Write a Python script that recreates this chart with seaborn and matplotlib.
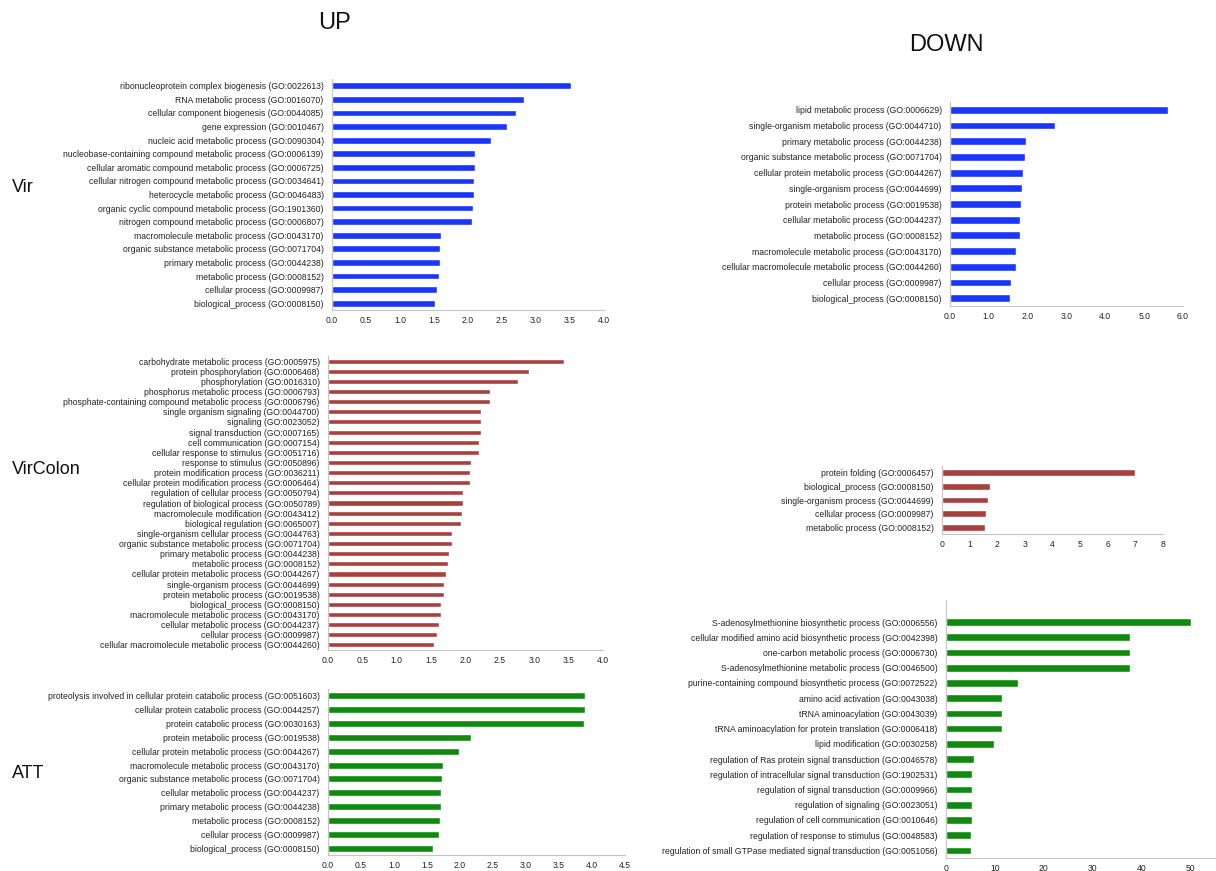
import matplotlib
matplotlib.use("Agg")
import matplotlib.pyplot as plt
import seaborn as sns
import pandas as pd

sns.set_theme(style="white")
plt.rcParams['font.family'] = ['Liberation Sans', 'DejaVu Sans']

W, H = 1216, 871

# ---------------- data ----------------
vir_up_terms = [
    "ribonucleoprotein complex biogenesis (GO:0022613)",
    "RNA metabolic process (GO:0016070)",
    "cellular component biogenesis (GO:0044085)",
    "gene expression (GO:0010467)",
    "nucleic acid metabolic process (GO:0090304)",
    "nucleobase-containing compound metabolic process (GO:0006139)",
    "cellular aromatic compound metabolic process (GO:0006725)",
    "cellular nitrogen compound metabolic process (GO:0034641)",
    "heterocycle metabolic process (GO:0046483)",
    "organic cyclic compound metabolic process (GO:1901360)",
    "nitrogen compound metabolic process (GO:0006807)",
    "macromolecule metabolic process (GO:0043170)",
    "organic substance metabolic process (GO:0071704)",
    "primary metabolic process (GO:0044238)",
    "metabolic process (GO:0008152)",
    "cellular process (GO:0009987)",
    "biological_process (GO:0008150)",
]
vir_up_values = [3.52, 2.83, 2.70, 2.57, 2.34, 2.11, 2.10, 2.09, 2.09, 2.08,
                 2.06, 1.60, 1.585, 1.585, 1.57, 1.55, 1.52]

vircolon_up_terms = [
    "carbohydrate metabolic process (GO:0005975)",
    "protein phosphorylation (GO:0006468)",
    "phosphorylation (GO:0016310)",
    "phosphorus metabolic process (GO:0006793)",
    "phosphate-containing compound metabolic process (GO:0006796)",
    "single organism signaling (GO:0044700)",
    "signaling (GO:0023052)",
    "signal transduction (GO:0007165)",
    "cell communication (GO:0007154)",
    "cellular response to stimulus (GO:0051716)",
    "response to stimulus (GO:0050896)",
    "protein modification process (GO:0036211)",
    "cellular protein modification process (GO:0006464)",
    "regulation of cellular process (GO:0050794)",
    "regulation of biological process (GO:0050789)",
    "macromolecule modification (GO:0043412)",
    "biological regulation (GO:0065007)",
    "single-organism cellular process (GO:0044763)",
    "organic substance metabolic process (GO:0071704)",
    "primary metabolic process (GO:0044238)",
    "metabolic process (GO:0008152)",
    "cellular protein metabolic process (GO:0044267)",
    "single-organism process (GO:0044699)",
    "protein metabolic process (GO:0019538)",
    "biological_process (GO:0008150)",
    "macromolecule metabolic process (GO:0043170)",
    "cellular metabolic process (GO:0044237)",
    "cellular process (GO:0009987)",
    "cellular macromolecule metabolic process (GO:0044260)",
]
vircolon_up_values = [3.43, 2.93, 2.77, 2.35, 2.35, 2.23, 2.23, 2.23, 2.20, 2.20,
                      2.08, 2.07, 2.07, 1.97, 1.96, 1.95, 1.93, 1.81, 1.80, 1.76,
                      1.75, 1.71, 1.69, 1.69, 1.65, 1.64, 1.62, 1.58, 1.54]

att_up_terms = [
    "proteolysis involved in cellular protein catabolic process (GO:0051603)",
    "cellular protein catabolic process (GO:0044257)",
    "protein catabolic process (GO:0030163)",
    "protein metabolic process (GO:0019538)",
    "cellular protein metabolic process (GO:0044267)",
    "macromolecule metabolic process (GO:0043170)",
    "organic substance metabolic process (GO:0071704)",
    "cellular metabolic process (GO:0044237)",
    "primary metabolic process (GO:0044238)",
    "metabolic process (GO:0008152)",
    "cellular process (GO:0009987)",
    "biological_process (GO:0008150)",
]
att_up_values = [3.90, 3.90, 3.88, 2.17, 1.98, 1.74, 1.73, 1.71, 1.71, 1.70, 1.68, 1.59]

vir_down_terms = [
    "lipid metabolic process (GO:0006629)",
    "single-organism metabolic process (GO:0044710)",
    "primary metabolic process (GO:0044238)",
    "organic substance metabolic process (GO:0071704)",
    "cellular protein metabolic process (GO:0044267)",
    "single-organism process (GO:0044699)",
    "protein metabolic process (GO:0019538)",
    "cellular metabolic process (GO:0044237)",
    "metabolic process (GO:0008152)",
    "macromolecule metabolic process (GO:0043170)",
    "cellular macromolecule metabolic process (GO:0044260)",
    "cellular process (GO:0009987)",
    "biological_process (GO:0008150)",
]
vir_down_values = [5.61, 2.71, 1.96, 1.93, 1.89, 1.86, 1.83, 1.81, 1.79, 1.70, 1.69, 1.56, 1.54]

vircolon_down_terms = [
    "protein folding (GO:0006457)",
    "biological_process (GO:0008150)",
    "single-organism process (GO:0044699)",
    "cellular process (GO:0009987)",
    "metabolic process (GO:0008152)",
]
vircolon_down_values = [6.97, 1.72, 1.66, 1.58, 1.56]

att_down_terms = [
    "S-adenosylmethionine biosynthetic process (GO:0006556)",
    "cellular modified amino acid biosynthetic process (GO:0042398)",
    "one-carbon metabolic process (GO:0006730)",
    "S-adenosylmethionine metabolic process (GO:0046500)",
    "purine-containing compound biosynthetic process (GO:0072522)",
    "amino acid activation (GO:0043038)",
    "tRNA aminoacylation (GO:0043039)",
    "tRNA aminoacylation for protein translation (GO:0006418)",
    "lipid modification (GO:0030258)",
    "regulation of Ras protein signal transduction (GO:0046578)",
    "regulation of intracellular signal transduction (GO:1902531)",
    "regulation of signal transduction (GO:0009966)",
    "regulation of signaling (GO:0023051)",
    "regulation of cell communication (GO:0010646)",
    "regulation of response to stimulus (GO:0048583)",
    "regulation of small GTPase mediated signal transduction (GO:0051056)",
]
att_down_values = [50.2, 37.7, 37.7, 37.7, 14.8, 11.5, 11.5, 11.5, 9.8,
                   5.7, 5.3, 5.3, 5.3, 5.3, 5.2, 5.1]

vir_up_ticks = [0.0, 0.5, 1.0, 1.5, 2.0, 2.5, 3.0, 3.5, 4.0]
vircolon_up_ticks = [0.0, 0.5, 1.0, 1.5, 2.0, 2.5, 3.0, 3.5, 4.0]
att_up_ticks = [0.0, 0.5, 1.0, 1.5, 2.0, 2.5, 3.0, 3.5, 4.0, 4.5]
vir_down_ticks = [0.0, 1.0, 2.0, 3.0, 4.0, 5.0, 6.0]
vircolon_down_ticks = [0, 1, 2, 3, 4, 5, 6, 7, 8]
att_down_ticks = [0, 10, 20, 30, 40, 50]
att_down_xmax = 60

BLUE = "#1a36fb"
RED = "#a8403f"
GREEN = "#0f8a0f"

FS = 6.25

fig = plt.figure(figsize=(W / 100, H / 100), dpi=100)


def panel(px_left, px_right, px_top, px_bottom, terms, values, ticks, color,
          fmt, xmax=None, extra_top=0.0):
    ax = fig.add_axes([px_left / W, 1 - px_bottom / H,
                       (px_right - px_left) / W, (px_bottom - px_top) / H])
    df = pd.DataFrame({"term": terms, "value": values})
    sns.barplot(data=df, x="value", y="term", orient="h", color=color,
                saturation=1, width=0.5, ax=ax)
    ax.set_xlim(ticks[0], ticks[-1] if xmax is None else xmax)
    n = len(terms)
    ax.set_ylim(n - 0.5, -0.5 - extra_top)
    ax.set_xticks(ticks)
    ax.set_xticklabels([fmt.format(t) for t in ticks], fontsize=FS, color="#222222")
    ax.tick_params(axis="y", labelsize=FS, length=0, pad=6, colors="#222222")
    ax.tick_params(axis="x", length=2.5, width=0.6, color="#bbbbbb", pad=4,
                   direction="in")
    ax.set_xlabel("")
    ax.set_ylabel("")
    for s in ["top", "right"]:
        ax.spines[s].set_visible(False)
    for s in ["left", "bottom"]:
        ax.spines[s].set_color("#c4c4c4")
        ax.spines[s].set_linewidth(0.8)
    ax.set_facecolor("none")
    return ax


# UP column
panel(332, 604, 79, 310, vir_up_terms, vir_up_values, vir_up_ticks, BLUE, "{:.1f}")
panel(328, 603, 356, 650, vircolon_up_terms, vircolon_up_values, vircolon_up_ticks, RED, "{:.1f}")
panel(328, 625, 689, 855, att_up_terms, att_up_values, att_up_ticks, GREEN, "{:.1f}")

# DOWN column
panel(950, 1183, 102, 306, vir_down_terms, vir_down_values, vir_down_ticks, BLUE, "{:.1f}")
panel(942, 1163, 466, 534, vircolon_down_terms, vircolon_down_values, vircolon_down_ticks, RED, "{:d}")
panel(946, 1239, 600, 858, att_down_terms, att_down_values, att_down_ticks, GREEN, "{:d}",
      xmax=att_down_xmax, extra_top=0.95)

# titles and row labels
fig.text(334 / W, 1 - 23 / H, "UP", fontsize=17, ha="center", va="center", color="#111111")
fig.text(946 / W, 1 - 45 / H, "DOWN", fontsize=17, ha="center", va="center", color="#111111")
fig.text(12 / W, 1 - 188 / H, "Vir", fontsize=13, ha="left", va="center", color="#111111")
fig.text(12 / W, 1 - 470 / H, "VirColon", fontsize=13, ha="left", va="center", color="#111111")
fig.text(12 / W, 1 - 773 / H, "ATT", fontsize=13, ha="left", va="center", color="#111111")

fig.savefig("out.png", dpi=100, facecolor="white")
